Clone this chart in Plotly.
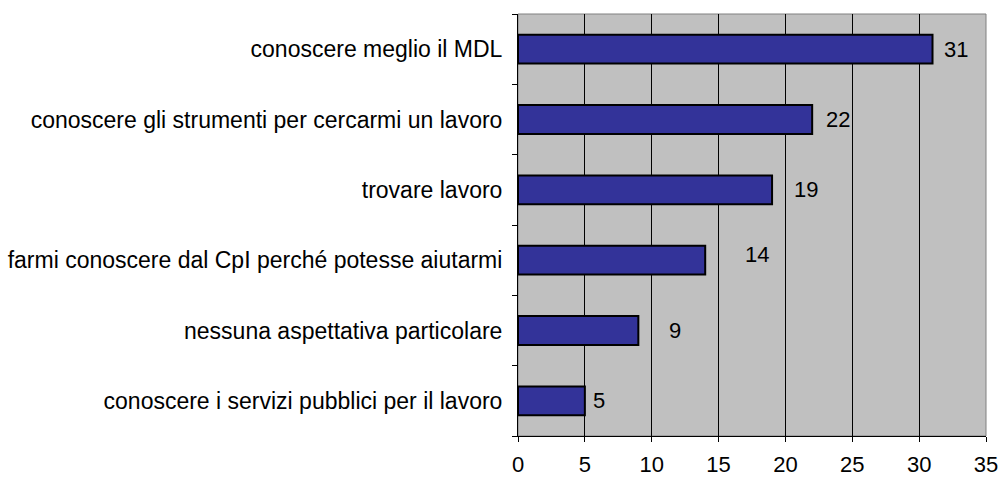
import plotly.graph_objects as go

categories = [
    "conoscere meglio il MDL",
    "conoscere gli strumenti per cercarmi un lavoro",
    "trovare lavoro",
    "farmi conoscere dal CpI perché potesse aiutarmi",
    "nessuna aspettativa particolare",
    "conoscere i servizi pubblici per il lavoro",
]
values = [31, 22, 19, 14, 9, 5]
x_ticks = [0, 5, 10, 15, 20, 25, 30, 35]

# label nudges (pixels) as placed in the original
label_dx = [9, 12, 20, 38, 29, 6]
label_dy = [0, 0, 0, 6, 0, 0]

FONT = "Liberation Sans, Arial, sans-serif"
FS = 23
FS_NUM = 22

fig = go.Figure()
fig.add_trace(go.Bar(
    y=categories,
    x=values,
    orientation="h",
    marker=dict(color="#333399", line=dict(color="#000000", width=2)),
    hoverinfo="x+y",
))

for c, v, dx, dy in zip(categories, values, label_dx, label_dy):
    fig.add_annotation(
        x=v, y=c, xref="x", yref="y", text=str(v), showarrow=False,
        xanchor="left", yanchor="middle", xshift=dx, yshift=dy,
        font=dict(family=FONT, size=FS_NUM, color="#000000"),
    )

# gray frame around the plot area (top/right visible)
fig.add_shape(type="rect", xref="paper", yref="paper", x0=0, y0=0, x1=1, y1=1,
              line=dict(color="#808080", width=1), layer="below")

fig.update_layout(
    width=998, height=477, autosize=False,
    margin=dict(l=518, r=12, t=14, b=41, pad=0),
    paper_bgcolor="#FFFFFF",
    plot_bgcolor="#C0C0C0",
    bargap=0.59,
    showlegend=False,
    font=dict(family=FONT, size=FS, color="#000000"),
)
fig.update_xaxes(
    range=[0, 35], tickvals=x_ticks, ticktext=[str(t) for t in x_ticks],
    showgrid=True, gridcolor="#000000", gridwidth=1,
    showline=True, linecolor="#000000", linewidth=1,
    ticks="outside", ticklen=5, tickcolor="#000000",
    zeroline=False, fixedrange=True, automargin=False,
    ticklabeloverflow="allow", ticklabelstandoff=4,
    tickfont=dict(family=FONT, size=FS_NUM, color="#000000"),
)
fig.update_yaxes(
    categoryorder="array", categoryarray=categories[::-1],
    autorange=False, range=[-0.5, len(categories) - 0.5],
    showgrid=False, showline=True, linecolor="#000000", linewidth=1,
    ticks="outside", ticklen=5, tickcolor="#000000", tickson="boundaries",
    ticklabelstandoff=10, automargin=False, ticklabeloverflow="allow",
    fixedrange=True,
    tickfont=dict(family=FONT, size=FS, color="#000000"),
)

# remove the page's default body margin and scrollbars so the figure fills the window
fig.write_html(
    "out.html",
    config={"displayModeBar": False},
    post_script="document.body.style.margin='0';document.body.style.overflow='hidden';",
)
